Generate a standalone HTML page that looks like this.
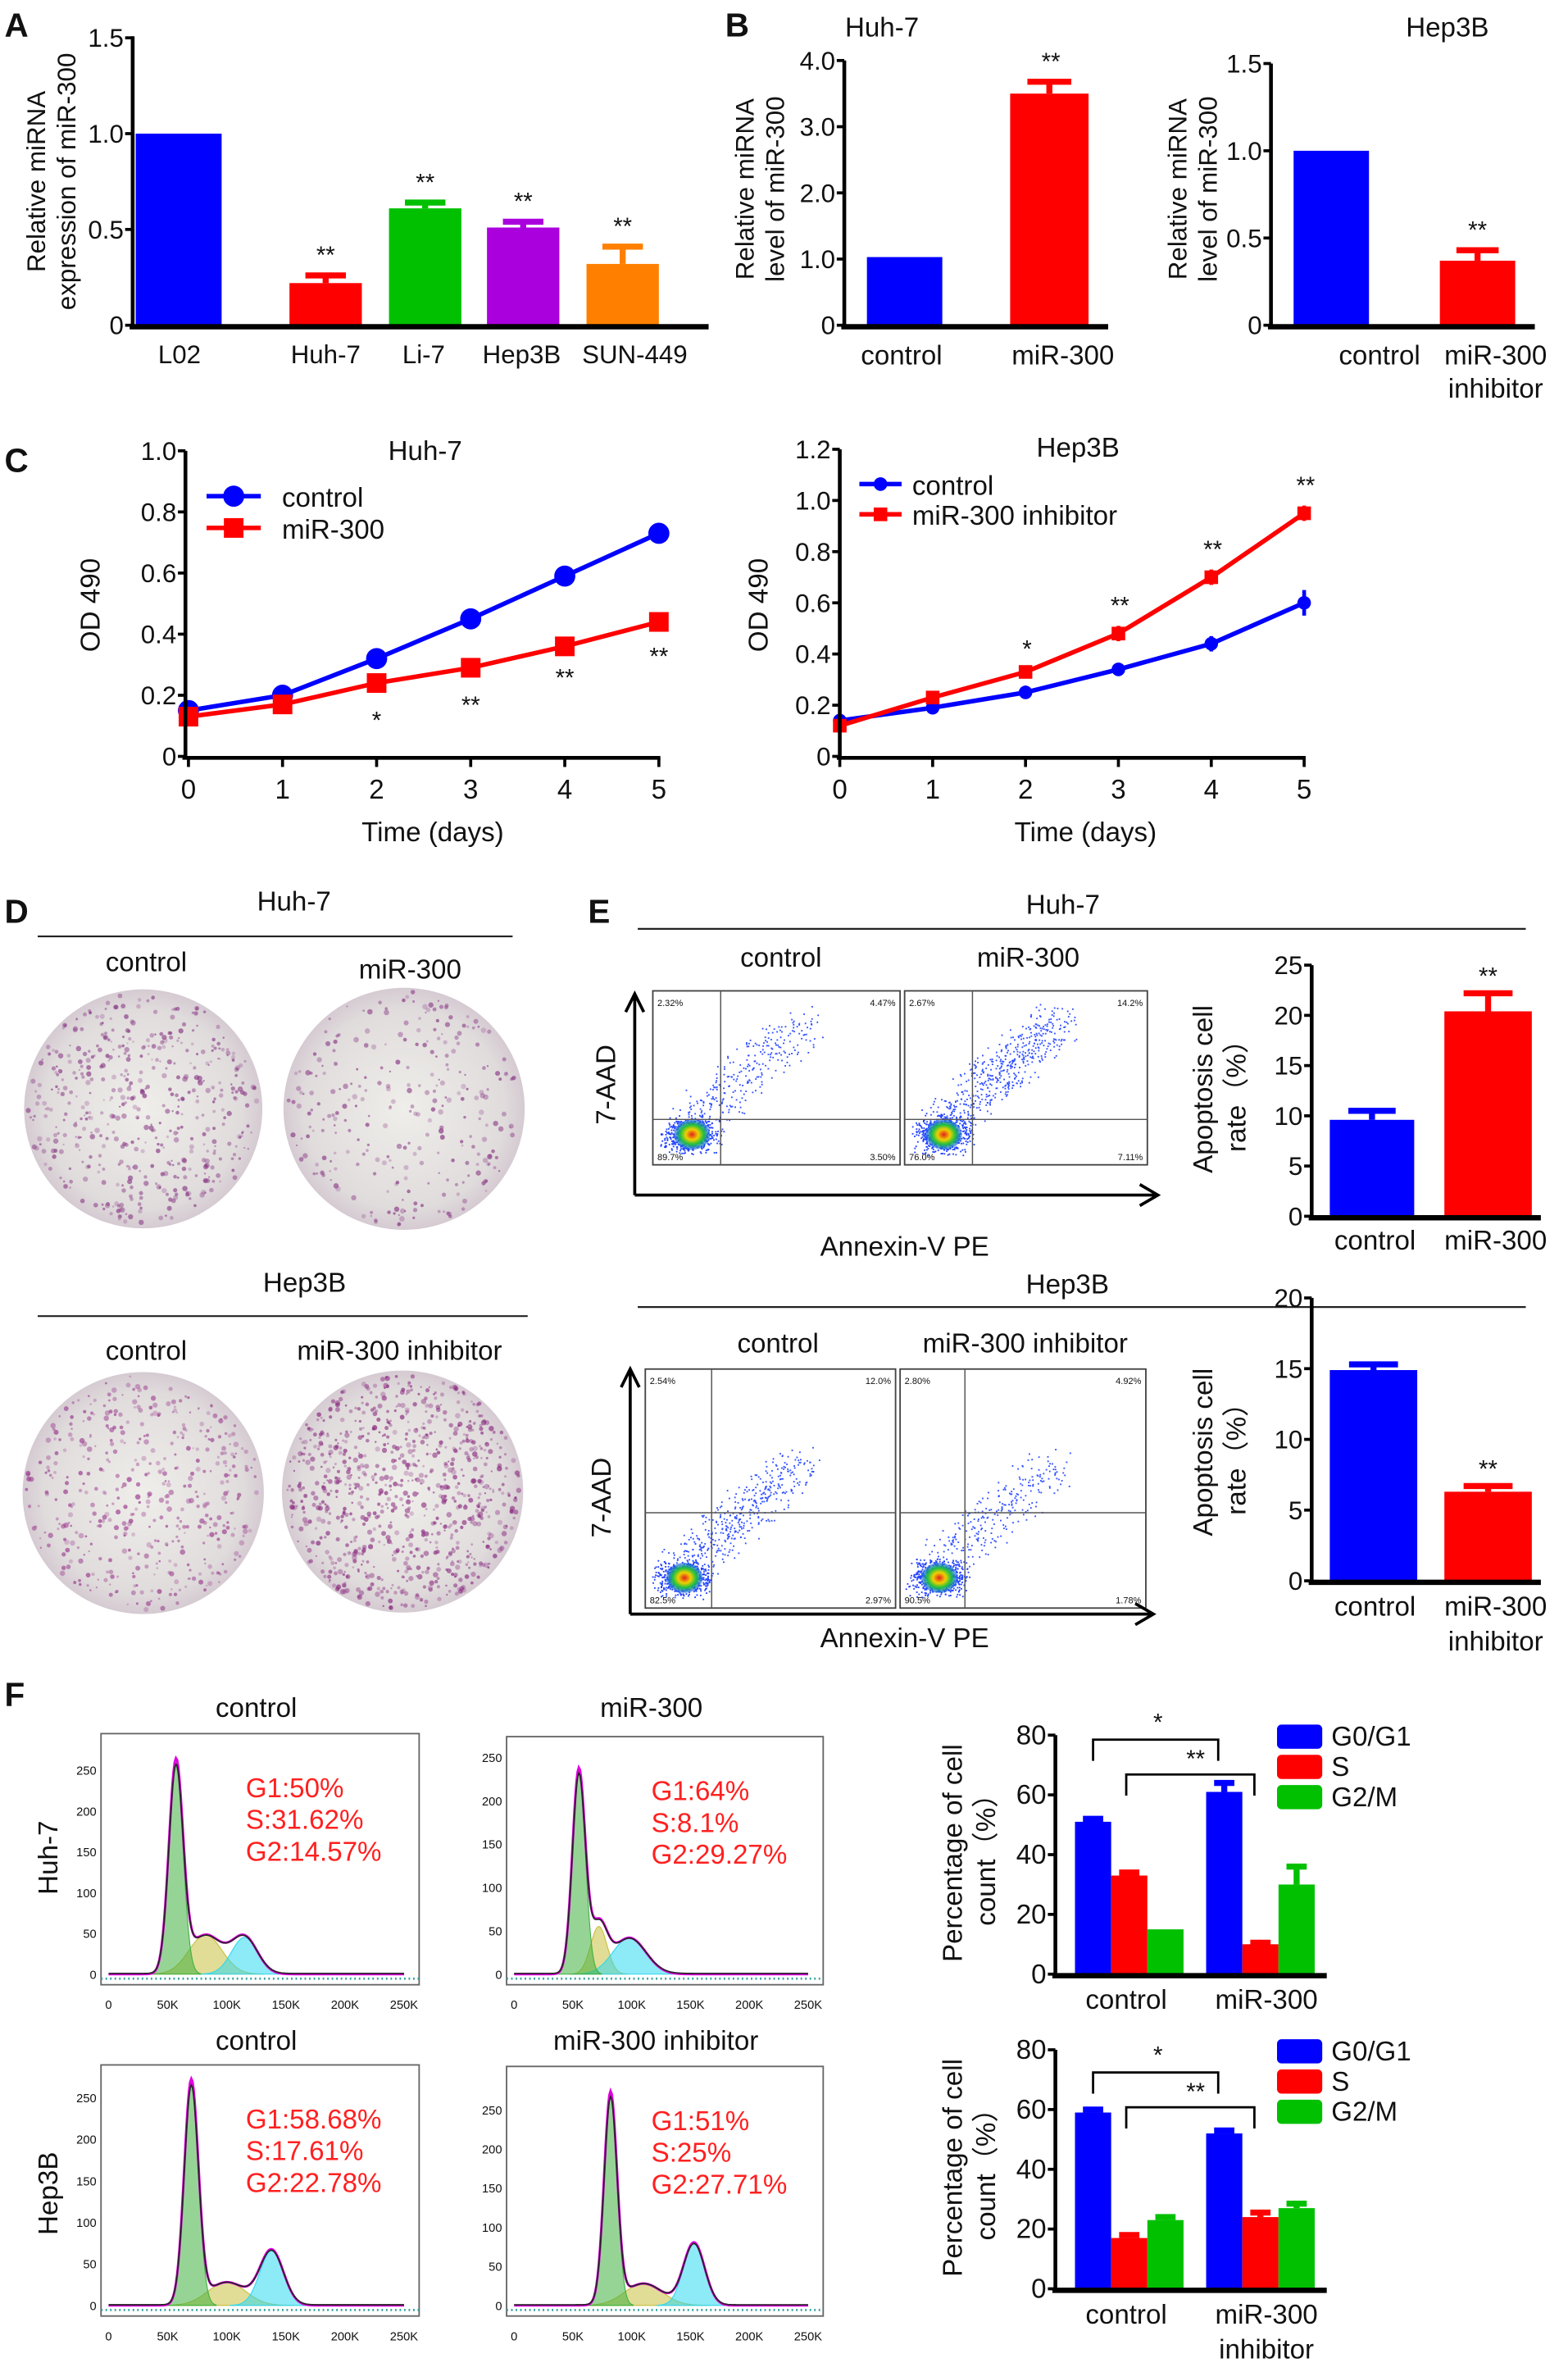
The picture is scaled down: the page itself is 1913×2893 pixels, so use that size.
<!DOCTYPE html>
<html><head><meta charset="utf-8"><title>miR-300 figure</title>
<style>
html,body{margin:0;padding:0;background:#fff;}
svg{display:block;font-family:"Liberation Sans",Arial,sans-serif;}
text{fill:#111;}
</style></head>
<body>
<svg id="fig" width="1913" height="2893" viewBox="0 0 1040 1568" preserveAspectRatio="none" xmlns="http://www.w3.org/2000/svg">
<defs>
<radialGradient id="plateGrad" cx="50%" cy="50%" r="55%">
<stop offset="0%" stop-color="#efeeea"/><stop offset="75%" stop-color="#e0dcdc"/><stop offset="100%" stop-color="#cfc0cc"/>
</radialGradient>
<radialGradient id="coreGrad" cx="50%" cy="50%" r="50%">
<stop offset="0%" stop-color="#e02020"/><stop offset="35%" stop-color="#f0d000"/><stop offset="65%" stop-color="#20c040"/><stop offset="100%" stop-color="#2060ff" stop-opacity="0.6"/>
</radialGradient>
</defs>
<text x="3" y="24" font-size="22" font-weight="bold">A</text>
<text x="481" y="24" font-size="22" font-weight="bold">B</text>
<text x="3" y="312" font-size="22" font-weight="bold">C</text>
<text x="3" y="610" font-size="22" font-weight="bold">D</text>
<text x="390" y="610" font-size="22" font-weight="bold">E</text>
<text x="3" y="1128" font-size="22" font-weight="bold">F</text>

<g font-size="18" text-anchor="middle">
<text x="585" y="24">Huh-7</text>
<text x="960" y="24">Hep3B</text>
<text x="282" y="304">Huh-7</text>
<text x="715" y="302">Hep3B</text>
<text x="195" y="602">Huh-7</text>
<text x="97" y="642">control</text>
<text x="272" y="647">miR-300</text>
<text x="202" y="854">Hep3B</text>
<text x="97" y="899">control</text>
<text x="265" y="899">miR-300 inhibitor</text>
<text x="705" y="604">Huh-7</text>
<text x="518" y="639">control</text>
<text x="682" y="639">miR-300</text>
<text x="708" y="855">Hep3B</text>
<text x="516" y="894">control</text>
<text x="680" y="894">miR-300 inhibitor</text>
<text x="600" y="830">Annexin-V PE</text>
<text x="600" y="1089">Annexin-V PE</text>
<text x="0" y="0" transform="translate(408,717) rotate(-90)">7-AAD</text>
<text x="0" y="0" transform="translate(405,990) rotate(-90)">7-AAD</text>
<text x="170" y="1135">control</text>
<text x="432" y="1135">miR-300</text>
<text x="170" y="1355">control</text>
<text x="435" y="1355">miR-300 inhibitor</text>
<text x="0" y="0" transform="translate(38,1228) rotate(-90)">Huh-7</text>
<text x="0" y="0" transform="translate(38,1450) rotate(-90)">Hep3B</text>
</g>
<g stroke="#222" stroke-width="1.2">
<line x1="25" y1="619" x2="340" y2="619"/>
<line x1="25" y1="870" x2="350" y2="870"/>
<line x1="423" y1="614" x2="1012" y2="614"/>
<line x1="423" y1="864" x2="1012" y2="864"/>
</g>
<g id="root"></g>
</svg>
<script>
// ---------- DATA ----------
const aCats = ['L02','Huh-7','Li-7','Hep3B','SUN-449'];
const aVals = [1.0, 0.22, 0.61, 0.51, 0.32];
const aErrs = [0, 0.04, 0.03, 0.03, 0.09];
const aStars = ['', '**', '**', '**', '**'];
const aTicks = [0, 0.5, 1.0, 1.5];
const aTickLabels = ['0','0.5','1.0','1.5'];

const bHuhCats = ['control','miR-300'];
const bHuhVals = [1.03, 3.5];
const bHuhErrs = [0, 0.18];
const bHuhTicks = [0,1,2,3,4];
const bHuhTickLabels = ['0','1.0','2.0','3.0','4.0'];

const bHepCats = ['control','miR-300'];
const bHepVals = [1.0, 0.37];
const bHepErrs = [0, 0.06];
const bHepTicks = [0,0.5,1.0,1.5];
const bHepTickLabels = ['0','0.5','1.0','1.5'];

const cDays = [0,1,2,3,4,5];
const cHuhControl = [0.15,0.20,0.32,0.45,0.59,0.73];
const cHuhControlErr = [0.02,0.01,0.03,0.02,0.01,0.02];
const cHuhMir = [0.13,0.17,0.24,0.29,0.36,0.44];
const cHuhMirErr = [0.02,0.01,0.03,0.03,0.01,0.02];
const cHuhStars = ['','','*','**','**','**'];
const cHuhTicks = [0,0.2,0.4,0.6,0.8,1.0];
const cHuhTickLabels = ['0','0.2','0.4','0.6','0.8','1.0'];

const cHepControl = [0.14,0.19,0.25,0.34,0.44,0.60];
const cHepControlErr = [0.01,0.01,0.01,0.01,0.03,0.05];
const cHepInh = [0.12,0.23,0.33,0.48,0.70,0.95];
const cHepInhErr = [0.01,0.01,0.01,0.03,0.03,0.03];
const cHepStars = ['','','*','**','**','**'];
const cHepTicks = [0,0.2,0.4,0.6,0.8,1.0,1.2];
const cHepTickLabels = ['0','0.2','0.4','0.6','0.8','1.0','1.2'];

const eHuhVals = [9.6, 20.4];
const eHuhErrs = [0.9, 1.8];
const eHuhTicks = [0,5,10,15,20,25];
const eHepVals = [14.9, 6.3];
const eHepErrs = [0.4, 0.4];
const eHepTicks = [0,5,10,15,20];

const fPhases = ['G0/G1','S','G2/M'];
const fHuhControl = [51, 33, 15];
const fHuhControlErr = [1, 1, 0];
const fHuhMir = [61, 10, 30];
const fHuhMirErr = [3, 0.5, 6];
const fHepControl = [59, 17, 23];
const fHepControlErr = [1, 1, 1];
const fHepInh = [52, 24, 27];
const fHepInhErr = [1, 1.5, 1.5];
const fTicks = [0,20,40,60,80];

const hHuhCtrlG1 = [57, 255, 6]; const hHuhCtrlS = [82, 48, 14]; const hHuhCtrlG2 = [115, 45, 11];
const hHuhMirG1 = [55, 235, 5.5]; const hHuhMirS = [72, 55, 7]; const hHuhMirG2 = [98, 42, 14];
const hHepCtrlG1 = [70, 268, 6]; const hHepCtrlS = [100, 28, 16]; const hHepCtrlG2 = [138, 66, 10];
const hHepInhG1 = [82, 268, 5.5]; const hHepInhS = [110, 28, 16]; const hHepInhG2 = [153, 80, 9];
const hXTicks = [0,50,100,150,200,250];
const hXTickLabels = ['0','50K','100K','150K','200K','250K'];
const hYTicks = [0,50,100,150,200,250];

// ---------- HELPERS ----------
const NS = 'http://www.w3.org/2000/svg';
const root = document.getElementById('root');
function mk(tag, a, parent){
  const e = document.createElementNS(NS, tag);
  for (const k in a) e.setAttribute(k, a[k]);
  (parent||root).appendChild(e);
  return e;
}
function txt(s, x, y, size, anchor, parent, color){
  const t = mk('text', {x:x, y:y, 'font-size':size, 'text-anchor':anchor||'middle'}, parent);
  if (color) t.setAttribute('style','fill:'+color);
  t.textContent = s;
  return t;
}
function linScale(v0, p0, v1, p1){ return v => p0 + (v - v0) * (p1 - p0) / (v1 - v0); }

function yAxis(prefix, x, yS, ticks, labels, top, bottom, fs){
  const ax = mk('line', {x1:x, y1:top, x2:x, y2:bottom, stroke:'#000', 'stroke-width':2.5});
  
  
  ticks.forEach((v,i)=>{
    const y = yS(v);
    const tk = mk('line', {x1:x-5, y1:y, x2:x, y2:y, stroke:'#000', 'stroke-width':2});
    
    
    const lb = txt(labels[i], x-6, y+6, fs||17, 'end');
    
    
  });
}
function xAxisLine(prefix, x1, x2, y, w){
  const ax = mk('line', {x1:x1, y1:y, x2:x2, y2:y, stroke:'#000', 'stroke-width':w||3.5});
  
  
}
function bar(prefix, x, w, yS, v, err, color){
  const y0 = yS(0), y = yS(v);
  const r = mk('rect', {x:x, y:y, width:w, height:y0-y, fill:color});
  
  
  if (err > 0){
    const ye = yS(v+err);
    const e1 = mk('line', {x1:x+w/2, y1:y, x2:x+w/2, y2:ye, stroke:color, 'stroke-width':4});
    
    
    const e2 = mk('line', {x1:x+w/2-w*0.28, y1:ye, x2:x+w/2+w*0.28, y2:ye, stroke:color, 'stroke-width':4});
    
    
  }
  return r;
}
function star(prefix, s, x, y){
  const t = txt(s, x, y, 16, 'middle');
  
  
}
function rotTitle(prefix, lines, cx, cy, gap, fs){
  lines.forEach((s,i)=>{
    const t = mk('text', {x:0, y:0, 'font-size':fs||18, 'text-anchor':'middle', transform:'translate('+(cx+i*gap)+','+cy+') rotate(-90)'});
    t.textContent = s;
    
    
  });
}

// ---------- PANEL A ----------
(function(){
  const yS = linScale(0, 215, 1.5, 25);
  const colors = ['#0000ff','#ff0000','#00c000','#aa00dd','#ff8000'];
  const lefts = [90, 192, 258, 323, 389];
  const widths = [57, 48, 48, 48, 48];
  const labX = [119, 216, 281, 346, 421];
  aCats.forEach((c,i)=>{
    bar('a-'+c.toLowerCase(), lefts[i], widths[i], yS, aVals[i], aErrs[i], colors[i]);
    if (aStars[i]) star('a', aStars[i], lefts[i]+widths[i]/2, yS(aVals[i]+aErrs[i])-8);
    const l = txt(c, labX[i], 240, 17, 'middle');
    
    
  });
  yAxis('a', 88, yS, aTicks, aTickLabels, 24, 216);
  xAxisLine('a', 86, 470, 216);
  rotTitle('a', ['Relative miRNA','expression of miR-300'], 30, 120, 20, 17);
})();

// ---------- PANEL B ----------
(function(){
  let yS = linScale(0, 215, 4, 40);
  bar('b-huh7-control', 575, 50, yS, bHuhVals[0], bHuhErrs[0], '#0000ff');
  bar('b-huh7-mir300', 670, 52, yS, bHuhVals[1], bHuhErrs[1], '#ff0000');
  star('b-huh7', '**', 697, yS(bHuhVals[1]+bHuhErrs[1])-8);
  yAxis('b-huh7', 560, yS, bHuhTicks, bHuhTickLabels, 40, 216);
  xAxisLine('b-huh7', 558, 735, 216);
  [598, 705].forEach((x,i)=>{ const l = txt(bHuhCats[i], x, 241, 18);   });
  rotTitle('b-huh7', ['Relative miRNA','level of miR-300'], 500, 125, 20, 17);

  yS = linScale(0, 215, 1.5, 42);
  bar('b-hep3b-control', 858, 50, yS, bHepVals[0], bHepErrs[0], '#0000ff');
  bar('b-hep3b-inhibitor', 955, 50, yS, bHepVals[1], bHepErrs[1], '#ff0000');
  star('b-hep3b', '**', 980, yS(bHepVals[1]+bHepErrs[1])-8);
  yAxis('b-hep3b', 843, yS, bHepTicks, bHepTickLabels, 42, 216);
  xAxisLine('b-hep3b', 841, 1018, 216);
  [[bHepCats[0],915,241],[bHepCats[1],992,241],['inhibitor',992,263]].forEach(d=>{ const l = txt(d[0], d[1], d[2], 18);   });
  rotTitle('b-hep3b', ['Relative miRNA','level of miR-300'], 787, 125, 20, 17);
})();

// ---------- PANEL C ----------
function lineSeries(prefix, xs, ys, vals, errs, color, marker){
  const pts = cDays.map((d,i)=>xs(d)+','+ys(vals[i])).join(' ');
  const pl = mk('polyline', {points:pts, fill:'none', stroke:color, 'stroke-width':3});
  
  
  cDays.forEach((d,i)=>{
    const x = xs(d), y = ys(vals[i]);
    const eb = mk('line', {x1:x, y1:ys(vals[i]-errs[i]), x2:x, y2:ys(vals[i]+errs[i]), stroke:color, 'stroke-width':2.5});
    
    
    let m;
    if (marker==='circle') m = mk('circle', {cx:x, cy:y, r:7, fill:color});
    else if (marker==='smallcircle') m = mk('circle', {cx:x, cy:y, r:4.5, fill:color});
    else if (marker==='smallsquare') m = mk('rect', {x:x-4.5, y:y-4.5, width:9, height:9, fill:color});
    else m = mk('rect', {x:x-6.5, y:y-6.5, width:13, height:13, fill:color});
    
    
  });
}
function xTicks(prefix, xs, y){
  cDays.forEach(d=>{
    const t = mk('line', {x1:xs(d), y1:y, x2:xs(d), y2:y+6, stroke:'#000', 'stroke-width':2});
    
    
    const l = txt(String(d), xs(d), y+27, 18);
    
    
  });
}
(function(){
  let xs = linScale(0, 125, 5, 437), ys = linScale(0, 500, 1.0, 298);
  lineSeries('c-huh7-control', xs, ys, cHuhControl, cHuhControlErr, '#0000ff', 'circle');
  lineSeries('c-huh7-mir300', xs, ys, cHuhMir, cHuhMirErr, '#ff0000', 'square');
  cDays.forEach((d,i)=>{ if (cHuhStars[i]) star('c-huh7', cHuhStars[i], xs(d), ys(cHuhMir[i]-cHuhMirErr[i])+24); });
  yAxis('c-huh7', 123, ys, cHuhTicks, cHuhTickLabels, 298, 501);
  xAxisLine('c-huh7', 121, 438, 501, 2.5);
  xTicks('c-huh7', xs, 501);
  const tt = txt('Time (days)', 287, 556, 18);  
  rotTitle('c-huh7', ['OD 490'], 66, 400, 0);
  let l1 = mk('line', {x1:137, y1:328, x2:173, y2:328, stroke:'#0000ff', 'stroke-width':3});  
  let m1 = mk('circle', {cx:155, cy:328, r:7, fill:'#0000ff'});  
  let t1 = txt('control', 187, 335, 18, 'start');  
  let l2 = mk('line', {x1:137, y1:349, x2:173, y2:349, stroke:'#ff0000', 'stroke-width':3});  
  let m2 = mk('rect', {x:148.5, y:342.5, width:13, height:13, fill:'#ff0000'});  
  let t2 = txt('miR-300', 187, 356, 18, 'start');  

  xs = linScale(0, 557, 5, 865); ys = linScale(0, 500, 1.2, 297);
  lineSeries('c-hep3b-control', xs, ys, cHepControl, cHepControlErr, '#0000ff', 'smallcircle');
  lineSeries('c-hep3b-inhibitor', xs, ys, cHepInh, cHepInhErr, '#ff0000', 'smallsquare');
  cDays.forEach((d,i)=>{ if (cHepStars[i]) star('c-hep3b', cHepStars[i], xs(d)+1, ys(cHepInh[i]+cHepInhErr[i])-8); });
  yAxis('c-hep3b', 557, ys, cHepTicks, cHepTickLabels, 297, 501);
  xAxisLine('c-hep3b', 555, 866, 501, 2.5);
  xTicks('c-hep3b', xs, 501);
  const tt2 = txt('Time (days)', 720, 556, 18);  
  rotTitle('c-hep3b', ['OD 490'], 509, 400, 0);
  l1 = mk('line', {x1:570, y1:320, x2:598, y2:320, stroke:'#0000ff', 'stroke-width':3});  
  m1 = mk('circle', {cx:584, cy:320, r:4.5, fill:'#0000ff'});  
  t1 = txt('control', 605, 327, 18, 'start');  
  l2 = mk('line', {x1:570, y1:340, x2:598, y2:340, stroke:'#ff0000', 'stroke-width':3});  
  m2 = mk('rect', {x:579.5, y:335.5, width:9, height:9, fill:'#ff0000'});  
  t2 = txt('miR-300 inhibitor', 605, 347, 18, 'start');  
})();

// ---------- PANEL D (colony plates, decorative) ----------
let seed = 12345;
function rnd(){ seed = (seed * 1103515245 + 12345) % 2147483648; return seed / 2147483648; }
function plate(name, cx, cy, r, n, col){
  const g = mk('g', {});
  
  
  mk('circle', {cx:cx, cy:cy, r:r, fill:'url(#plateGrad)'}, g);
  for (let i=0;i<n;i++){
    const a = rnd()*Math.PI*2, d = Math.sqrt(rnd())*r*0.97;
    mk('circle', {cx:cx+Math.cos(a)*d, cy:cy+Math.sin(a)*d, r:0.6+rnd()*1.2, fill:col, opacity:0.25+rnd()*0.45}, g);
  }
}
plate('d-huh7-control-plate', 95, 733, 79, 500, '#8a3a86');
plate('d-huh7-mir300-plate', 268, 733, 80, 280, '#8a3a86');
plate('d-hep3b-control-plate', 95, 987, 80, 450, '#9a3a8e');
plate('d-hep3b-inhibitor-plate', 267, 986, 80, 850, '#8a2a80');

// ---------- PANEL E flow plots (decorative) ----------
function flowPlot(name, x, y, w, h, qx, qy, corners, spread){
  const g = mk('g', {});
  
  
  mk('rect', {x:x, y:y, width:w, height:h, fill:'#fff', stroke:'#444', 'stroke-width':1}, g);
  for (let i=0;i<spread;i++){
    const t = rnd();
    const px = x+22+t*80+(rnd()-0.5)*30, py = y+h-25-t*70+(rnd()-0.5)*25;
    mk('rect', {x:px, y:py, width:1, height:1, fill:'#3050ff'}, g);
  }
  for (let i=0;i<500;i++){
    const px = x+25+(rnd()+rnd()-1)*22, py = y+h-20+(rnd()+rnd()-1)*14;
    mk('rect', {x:px, y:py, width:1, height:1, fill:'#2040ff'}, g);
  }
  mk('ellipse', {cx:x+26, cy:y+h-20, rx:12, ry:10, fill:'url(#coreGrad)'}, g);
  mk('line', {x1:qx, y1:y, x2:qx, y2:y+h, stroke:'#555', 'stroke-width':0.8}, g);
  mk('line', {x1:x, y1:qy, x2:x+w, y2:qy, stroke:'#555', 'stroke-width':0.8}, g);
  const pos = [[x+3,y+10,'start'],[x+w-3,y+10,'end'],[x+3,y+h-3,'start'],[x+w-3,y+h-3,'end']];
  pos.forEach((p,i)=>{ const t = mk('text',{x:p[0],y:p[1],'font-size':6,'text-anchor':p[2]},g); t.textContent = corners[i]; });
}
flowPlot('e-huh7-control-flow', 433, 655, 164, 115, 478, 740, ['2.32%','4.47%','89.7%','3.50%'], 300);
flowPlot('e-huh7-mir300-flow', 600, 655, 161, 115, 645, 740, ['2.67%','14.2%','76.0%','7.11%'], 550);
flowPlot('e-hep3b-control-flow', 428, 905, 166, 158, 472, 1000, ['2.54%','12.0%','82.5%','2.97%'], 450);
flowPlot('e-hep3b-inhibitor-flow', 597, 905, 163, 158, 640, 1000, ['2.80%','4.92%','90.5%','1.78%'], 300);
function arrows(prefix, ax, top, bottom, right){
  const v = mk('path', {d:'M'+ax+','+bottom+' L'+ax+','+top+' M'+(ax-6)+','+(top+12)+' L'+ax+','+top+' L'+(ax+6)+','+(top+12), fill:'none', stroke:'#000', 'stroke-width':2});
  
  
  const hz = mk('path', {d:'M'+ax+','+bottom+' L'+right+','+bottom+' M'+(right-12)+','+(bottom-7)+' L'+right+','+bottom+' L'+(right-12)+','+(bottom+7), fill:'none', stroke:'#000', 'stroke-width':2});
  
  
}
arrows('e-huh7', 421, 657, 790, 768);
arrows('e-hep3b', 418, 905, 1067, 765);

(function(){
  let yS = linScale(0, 804, 25, 638);
  bar('e-huh7-control', 882, 56, yS, eHuhVals[0], eHuhErrs[0], '#0000ff');
  bar('e-huh7-mir300', 958, 58, yS, eHuhVals[1], eHuhErrs[1], '#ff0000');
  star('e-huh7', '**', 987, yS(eHuhVals[1]+eHuhErrs[1])-6);
  yAxis('e-huh7', 870, yS, eHuhTicks, eHuhTicks.map(String), 638, 805);
  xAxisLine('e-huh7', 868, 1022, 805);
  [['control',912,826],['miR-300',992,826]].forEach(d=>{ const l = txt(d[0], d[1], d[2], 18);   });
  rotTitle('e-huh7', ['Apoptosis cell','rate（%）'], 804, 720, 22);

  yS = linScale(0, 1045, 20, 858);
  bar('e-hep3b-control', 882, 58, yS, eHepVals[0], eHepErrs[0], '#0000ff');
  bar('e-hep3b-inhibitor', 958, 58, yS, eHepVals[1], eHepErrs[1], '#ff0000');
  star('e-hep3b', '**', 987, yS(eHepVals[1]+eHepErrs[1])-6);
  yAxis('e-hep3b', 870, yS, eHepTicks, eHepTicks.map(String), 858, 1046);
  xAxisLine('e-hep3b', 868, 1022, 1046);
  [['control',912,1068],['miR-300',992,1068],['inhibitor',992,1091]].forEach(d=>{ const l = txt(d[0], d[1], d[2], 18);   });
  rotTitle('e-hep3b', ['Apoptosis cell','rate（%）'], 804, 960, 22);
})();

// ---------- PANEL F histograms ----------
function gauss(p, x){ return p[1]*Math.exp(-0.5*Math.pow((x-p[0])/p[2],2)); }
function histo(name, bx, by, bw, bh, G1, S, G2, yMax, labels){
  const g = mk('g', {});
  
  
  mk('rect', {x:bx, y:by, width:bw, height:bh, fill:'#fff', stroke:'#666', 'stroke-width':1}, g);
  const xs = linScale(0, bx+5, 250, bx+bw-10);
  const ys = linScale(0, by+bh-7, yMax, by+8);
  function comp(p, color){
    let d = 'M'+xs(p[0]-3.5*p[2])+','+ys(0);
    for (let k=p[0]-3.5*p[2]; k<=p[0]+3.5*p[2]; k+=0.5) d += ' L'+xs(k)+','+ys(gauss(p,k));
    d += ' L'+xs(p[0]+3.5*p[2])+','+ys(0)+' Z';
    mk('path', {d:d, fill:color, 'fill-opacity':0.55, stroke:color, 'stroke-width':0.6}, g);
  }
  comp(S, '#c8c040'); comp(G2, '#30d8f0'); comp(G1, '#40b040');
  let env = '', blk = '';
  for (let k=0;k<=250;k+=1){
    const v = gauss(G1,k)+gauss(S,k)+gauss(G2,k);
    env += (k?' L':'M')+xs(k)+','+ys(v);
    blk += (k?' L':'M')+xs(k)+','+ys(v*0.97+0.8);
  }
  mk('path', {d:env, fill:'none', stroke:'#e000e0', 'stroke-width':1.6}, g);
  mk('path', {d:blk, fill:'none', stroke:'#222', 'stroke-width':0.9}, g);
  mk('line', {x1:bx, y1:by+bh-4, x2:bx+bw, y2:by+bh-4, stroke:'#30a0a0', 'stroke-width':1.5, 'stroke-dasharray':'1 2'}, g);
  hXTicks.forEach((v,i)=>{ const t = mk('text',{x:xs(v), y:by+bh+16, 'font-size':8, 'text-anchor':'middle'}, g); t.textContent = hXTickLabels[i]; });
  hYTicks.filter(v=>v<=yMax).forEach(v=>{ const t = mk('text',{x:bx-3, y:ys(v)+3, 'font-size':8, 'text-anchor':'end'}, g); t.textContent = String(v); });
  labels.forEach((s,i)=>{ const t = mk('text',{x:bx+96, y:by+42+i*21, 'font-size':18, 'text-anchor':'start', style:'fill:#ff2020'}, g); t.textContent = s; });
}
histo('f-huh7-control-histogram', 67, 1146, 211, 166, hHuhCtrlG1, hHuhCtrlS, hHuhCtrlG2, 280, ['G1:50%','S:31.62%','G2:14.57%']);
histo('f-huh7-mir300-histogram', 336, 1148, 210, 164, hHuhMirG1, hHuhMirS, hHuhMirG2, 260, ['G1:64%','S:8.1%','G2:29.27%']);
histo('f-hep3b-control-histogram', 67, 1365, 211, 166, hHepCtrlG1, hHepCtrlS, hHepCtrlG2, 275, ['G1:58.68%','S:17.61%','G2:22.78%']);
histo('f-hep3b-inhibitor-histogram', 336, 1366, 210, 165, hHepInhG1, hHepInhS, hHepInhG2, 290, ['G1:51%','S:25%','G2:27.71%']);

// ---------- PANEL F bar charts ----------
function cycleChart(prefix, y0, grpA, errA, grpB, errB, catB, brY){
  const yS = linScale(0, y0, 80, y0-158);
  const colors = ['#0000ff','#ff0000','#00c000'];
  const starts = [713, 800];
  [[grpA,errA],[grpB,errB]].forEach((gd,gi)=>{
    fPhases.forEach((p,i)=>{
      bar(prefix+'-'+p.toLowerCase().replace('/','-'), starts[gi]+i*24, 24, yS, gd[0][i], gd[1][i], colors[i]);
    });
  });
  yAxis(prefix, 700, yS, fTicks, fTicks.map(String), y0-158, y0+1, 18);
  xAxisLine(prefix, 698, 880, y0+1);
  const l1 = txt('control', 747, y0+23, 18);  
  catB.forEach((s,i)=>{ const l = txt(s, 840, y0+23+i*23, 18);   });
  rotTitle(prefix, ['Percentage of  cell','count（%）'], 638, y0-80, 22);
  fPhases.forEach((p,i)=>{
    const r = mk('rect', {x:847, y:y0-165+i*20, width:30, height:16, rx:3, fill:colors[i]});
    
    
    const t = txt(p, 883, y0-151+i*20, 18, 'start');
    
    
  });
  const b1 = mk('path', {d:'M725,'+(brY+14)+' L725,'+brY+' L808,'+brY+' L808,'+(brY+14), fill:'none', stroke:'#000', 'stroke-width':1.5});
  
  
  star(prefix, '*', 768, brY-6);
  const b2 = mk('path', {d:'M747,'+(brY+37)+' L747,'+(brY+23)+' L832,'+(brY+23)+' L832,'+(brY+37), fill:'none', stroke:'#000', 'stroke-width':1.5});
  
  
  star(prefix, '**', 793, brY+18);
}
cycleChart('f-huh7-cycle', 1305, fHuhControl, fHuhControlErr, fHuhMir, fHuhMirErr, ['miR-300'], 1150);
cycleChart('f-hep3b-cycle', 1513, fHepControl, fHepControlErr, fHepInh, fHepInhErr, ['miR-300','inhibitor'], 1370);
</script>
</body></html>
